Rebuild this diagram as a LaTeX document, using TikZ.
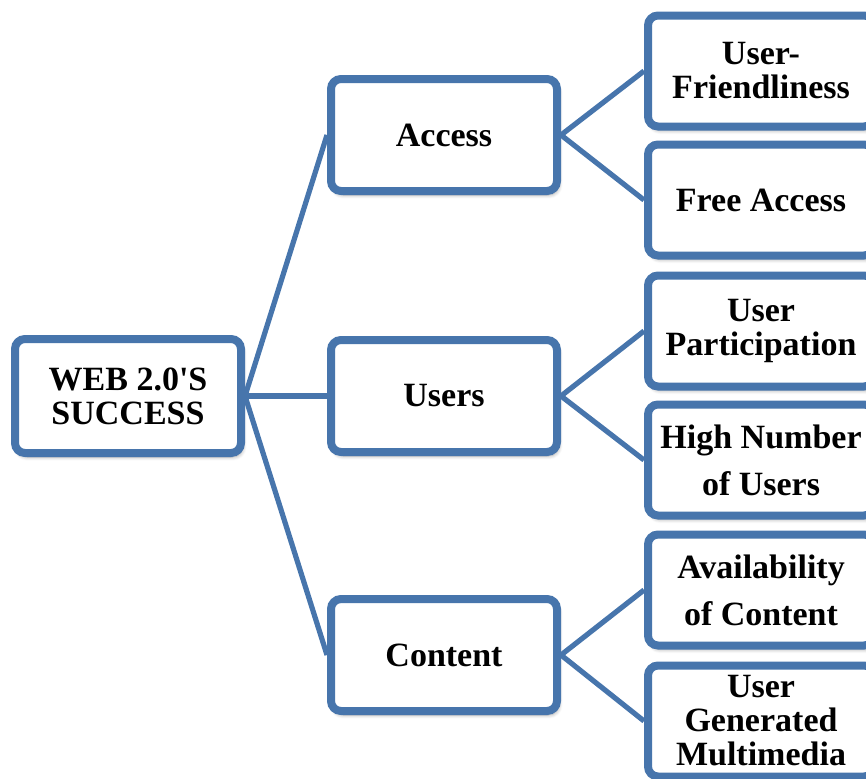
\documentclass[tikz,border=0pt]{standalone}
\usepackage{fontspec}
\setmainfont{Liberation Serif}
\usetikzlibrary{shadows.blur}
\definecolor{boxblue}{RGB}{71,117,172}
\tikzset{
  box/.style={draw=boxblue, line width=4pt, fill=white, rounded corners=5pt,
    align=center, font=\fontsize{17}{17}\selectfont\bfseries,
    minimum width=113pt, inner sep=0pt,
    blur shadow={shadow xshift=1pt, shadow yshift=-2pt, shadow blur steps=6, shadow opacity=35}},
  rootbox/.style={box, minimum height=57pt},
  midbox/.style={box, minimum height=56pt},
  leafbox/.style={box, minimum height=55.5pt},
  link/.style={draw=boxblue, line width=2.6pt}
}
\begin{document}
\begin{tikzpicture}[x=0.5pt, y=-0.5pt]
  \useasboundingbox (0,0) rectangle (866,778);
  \clip (0,0) rectangle (866,778);
  % root
  \node[rootbox] (root) at (128,396) {WEB 2.0\textquotesingle S\\SUCCESS};
  % middle level
  \node[midbox] (access)  at (444,135) {Access};
  \node[midbox] (users)   at (444,396) {Users};
  \node[midbox] (content) at (444,655) {Content};
  % leaves
  \node[leafbox] (friendly) at (761,71)  {User-\\Friendliness};
  \node[leafbox] (free)     at (761,200) {Free Access};
  \node[leafbox] (partic)   at (761,331) {User\\Participation};
  \node[leafbox] (many)     at (761,460) {High Number\\[6.5pt]of Users};
  \node[leafbox] (avail)    at (761,590) {Availability\\[6.5pt]of Content};
  \node[leafbox] (ugm)      at (761,721) {User\\Generated\\Multimedia};
  % connectors
  \draw[link] (root.east) -- (access.west);
  \draw[link] (root.east) -- (users.west);
  \draw[link] (root.east) -- (content.west);
  \draw[link] (access.east) -- (friendly.west);
  \draw[link] (access.east) -- (free.west);
  \draw[link] (users.east) -- (partic.west);
  \draw[link] (users.east) -- (many.west);
  \draw[link] (content.east) -- (avail.west);
  \draw[link] (content.east) -- (ugm.west);
\end{tikzpicture}
\end{document}
